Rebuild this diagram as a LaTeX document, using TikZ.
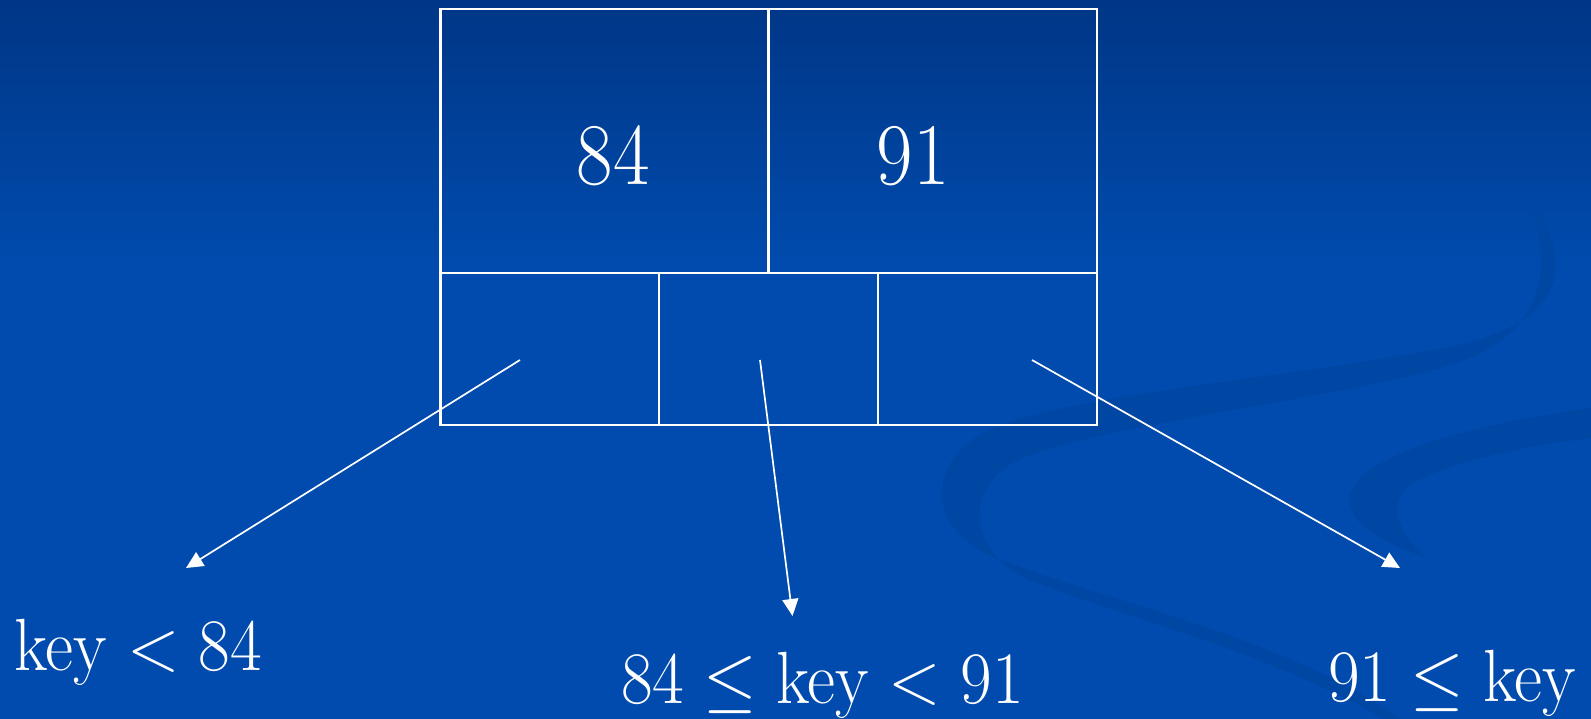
\RequirePackage{fix-cm}
\documentclass[tikz,border=0pt]{standalone}
\usetikzlibrary{arrows.meta}
\definecolor{bgtop}{RGB}{0,54,134}
\definecolor{bgbot}{RGB}{0,75,173}
\definecolor{swirl}{RGB}{0,70,163}
\newcommand\lblfont{\fontsize{74}{84}\selectfont}
\newcommand\numfont{\fontsize{88}{100}\selectfont}
\newcommand\sq[1]{\scalebox{0.93}[1]{#1}}
\newcommand\sqn[1]{\scalebox{0.9}[1]{#1}}
\tikzset{
  cell/.style n args={2}{draw=white, line width=2.4pt, anchor=north west,
    inner sep=0pt, outer sep=0pt, minimum width=#1, minimum height=#2},
  num/.style={text=white, font=\numfont, inner sep=0pt, anchor=base},
  lbl/.style={text=white, font=\lblfont, inner sep=0pt},
  ptr/.style={draw=white, line width=1.7pt,
    -{Triangle[length=17pt,width=16pt]}}
}
\begin{document}
\begin{tikzpicture}[x=1pt,y=-1pt]
\useasboundingbox (0,0) rectangle (1591,719);
% background
\fill[bgbot] (0,0) rectangle (1591,719);
\shade[top color=bgtop, bottom color=bgbot] (0,0) rectangle (1591,260);
% swirls
\fill[swirl] (1528,195) .. controls (1578,265) and (1565,325) .. (1445,348)
  .. controls (1290,378) and (1060,395) .. (985,432)
  .. controls (925,465) and (925,530) .. (1000,560)
  .. controls (1120,605) and (1290,640) .. (1400,719)
  -- (1384,719)
  .. controls (1270,652) and (1110,612) .. (1030,580)
  .. controls (965,552) and (960,480) .. (1030,455)
  .. controls (1130,420) and (1330,400) .. (1450,365)
  .. controls (1545,335) and (1555,270) .. (1528,195) -- cycle;
\fill[swirl] (1591,408) .. controls (1470,425) and (1360,455) .. (1350,495)
  .. controls (1345,525) and (1390,545) .. (1425,557)
  .. controls (1400,535) and (1385,505) .. (1410,485)
  .. controls (1450,460) and (1530,445) .. (1591,438) -- cycle;
% node cells
\node[cell={328.25pt}{263.9pt}] (k1) at (440.4,9.1) {};
\node[cell={328.25pt}{263.9pt}] (k2) at (768.65,9.1) {};
\node[cell={218.83pt}{152.1pt}] (c1) at (440.4,273) {};
\node[cell={218.83pt}{152.1pt}] (c2) at (659.23,273) {};
\node[cell={218.83pt}{152.1pt}] (c3) at (878.07,273) {};
\node[num] (n84) at (613,185) {\sqn{84}};
\node[num] (n91) at (913,185) {\sqn{91}};
% pointers
\coordinate (p1) at (520,360);
\coordinate (p2) at (760,360);
\coordinate (p3) at (1032,360);
\coordinate (e1) at (186,568);
\coordinate (e2) at (792.5,616);
\coordinate (e3) at (1400,568);
\draw[ptr] (p1) -- (e1);
\draw[ptr] (p2) -- (e2);
\draw[ptr] (p3) -- (e3);
% labels
\node[lbl, anchor=base west] (l1) at (14,670) {\sq{$\mathrm{key} < 84$}};
\node[lbl, anchor=base west] (l2) at (621,703) {\sq{$84 \le \mathrm{key} < 91$}};
\node[lbl, anchor=base west] (l3) at (1328,701) {\sq{$91 \le \mathrm{key}$}};
\end{tikzpicture}
\end{document}
